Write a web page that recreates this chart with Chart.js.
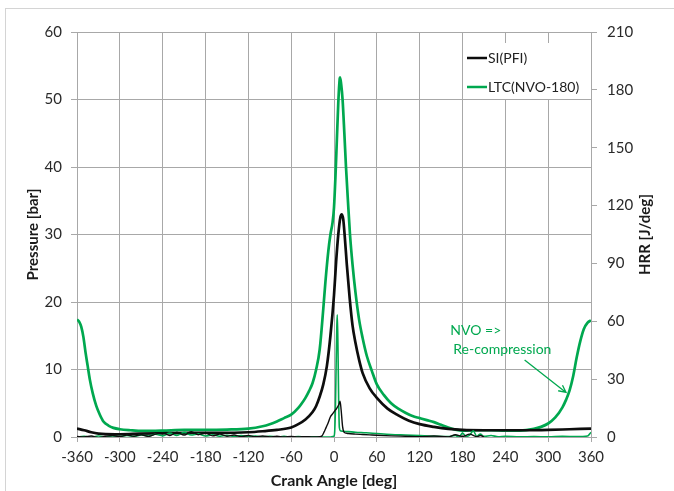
<!DOCTYPE html>
<html>
<head>
<meta charset="utf-8">
<title>Pressure and HRR vs crank angle</title>
<script src="https://cdn.jsdelivr.net/npm/chart.js@4"></script>
<style>
  html, body { margin: 0; padding: 0; background: #fff; }
  #wrap { position: relative; width: 674px; height: 491px; overflow: hidden; }
  #frame { position: absolute; left: 5px; top: 8px; width: 720px; height: 520px; border: 1px solid #d4d4d4; }
  #chart { position: absolute; left: 0; top: 0; }
</style>
</head>
<body>
<div id="wrap">
  <div id="frame"></div>
  <canvas id="chart" width="674" height="491"></canvas>
</div>
<script>
// cylinder pressure, SI (PFI) case [bar]
const siAngle = [-360, -350, -340, -330, -320, -300, -270, -240, -200, -160, -120, -100, -80, -60, -50, -40, -30, -25, -20, -15,
  -10, -5, 0, 3, 6, 9, 11, 13, 15, 18, 22, 26, 30, 35, 40, 50, 60, 75, 90, 105,
  120, 140, 160, 180, 210, 240, 270, 300, 330, 360];
const siPressure = [1.25, 1.0, 0.7, 0.5, 0.42, 0.4, 0.5, 0.55, 0.6, 0.6, 0.7, 0.85, 1.05, 1.4, 1.9, 2.6, 3.7, 4.6, 6.0, 7.8,
  10.5, 15, 21, 26, 30, 32.6, 33, 32.2, 29.8, 25.5, 20.5, 16.5, 14, 11.5, 9.5, 7.2, 5.8, 4.2, 3.2, 2.4,
  1.9, 1.5, 1.2, 1.05, 1.0, 1.0, 1.0, 1.05, 1.15, 1.25];

// cylinder pressure, LTC with NVO-180 [bar]
const ltcAngle = [-360, -357, -354, -351, -348, -345, -342, -338, -333, -328, -323, -316, -309, -300, -285, -268, -240, -210, -180, -150,
  -120, -100, -90, -80, -70, -60, -50, -45, -40, -35, -30, -25, -20, -15, -12, -8, -5, -2, 0, 2,
  4, 6, 8, 8.5, 10, 12, 14.5, 16.8, 19.5, 22.4, 26, 30, 35, 40, 46, 53, 60, 70, 80, 90,
  100, 110, 120, 130, 140, 150, 160, 170, 180, 200, 220, 240, 260, 280, 290, 300, 310, 320, 325, 330,
  335, 340, 345, 350, 355, 360];
const ltcPressure = [17.4, 17.1, 16.3, 14.8, 12.5, 10.5, 8.5, 6.5, 4.6, 3.3, 2.3, 1.7, 1.35, 1.15, 1.0, 0.9, 0.95, 1.05, 1.05, 1.1,
  1.25, 1.6, 1.9, 2.3, 2.8, 3.3, 4.3, 5.0, 5.8, 6.8, 8.0, 10, 13, 19, 23, 27.5, 30, 31.8, 34, 38.5,
  44, 49.5, 53.1, 53.3, 52.3, 50, 45, 40, 35, 30, 25.5, 21.5, 17.5, 14.7, 12, 9.8, 7.8, 6.2, 5.0, 4.2,
  3.6, 3.1, 2.8, 2.5, 2.2, 1.8, 1.4, 1.1, 0.95, 1.0, 1.0, 0.95, 0.95, 1.2, 1.5, 2.0, 2.9, 4.4, 5.5, 6.9,
  9.0, 11.8, 14.2, 16.0, 16.9, 17.3];

// heat release rate, SI (PFI) [J/deg]
const siHrrAngle = [-360, -350, -340, -330, -320, -310, -300, -290, -280, -270, -260, -250, -240, -230, -220, -210, -200, -190, -180, -170,
  -160, -150, -140, -130, -120, -110, -100, -90, -80, -70, -60, -50, -40, -30, -20, -17, -14, -11, -8, -5,
  -2, 1, 4, 7, 8.5, 10, 12, 14, 17, 20, 30, 40, 50, 60, 80, 100, 120, 140, 160, 170,
  180, 190, 200, 205, 210];
const siHrr = [0.3, 0, 0.5, -0.3, 0.4, 0.8, 0.2, 1.0, 0.4, 1.2, 0.3, 1.5, 2.2, 0.8, 2.5, 1.0, 2.8, 1.2, 2.0, 0.6,
  1.5, 0.4, 1.0, 0.2, 0.8, 0.1, 0.5, 0, 0.4, 0, 0.3, 0, 0.2, 0, 0.1, 0.5, 2.5, 5, 7.5, 10.5,
  12, 13.5, 15, 17, 18.5, 14, 5.5, 2.5, 2.0, 1.8, 1.5, 1.3, 1.1, 0.9, 0.6, 0.4, 0.2, 0.5, 0, 1.2,
  0.3, 1.5, 0.2, 0.8, 0];

// heat release rate, LTC with NVO-180 [J/deg]
const ltcHrrAngle = [-360, -350, -340, -330, -320, -310, -300, -290, -280, -270, -260, -250, -240, -230, -220, -210, -200, -190, -180, -170,
  -160, -150, -140, -130, -120, -110, -100, -90, -80, -70, -60, -50, -40, -30, -20, -10, -5, -2, 0, 1,
  2, 3, 4, 4.6, 5.5, 6.5, 7.5, 9, 12, 20, 30, 45, 60, 80, 100, 120, 140, 160, 170, 175,
  180, 185, 190, 195, 200, 205, 210, 220, 230, 240, 260, 280, 300, 320, 340, 355, 360];
const ltcHrr = [0, 0.4, -0.2, 0.5, 0.1, 0.6, 0.2, 0.8, 0.3, 1.0, 0.5, 1.4, 0.6, 2.0, 0.8, 2.4, 1.0, 1.6, 0.5, 1.2,
  0.4, 0.9, 0.3, 0.7, 0.2, 0.5, 0.1, 0.4, 0, 0.3, 0, 0.2, 0, 0.1, 0, 0, 0, 0.2, 0.5, 3,
  15, 38, 58, 63.4, 48, 20, 5, 3.2, 3.0, 2.8, 2.5, 2.2, 1.8, 1.3, 1.0, 0.7, 0.4, 0.2, 0.8, 0,
  2.0, 0.3, 1.0, 3.2, 0.4, 1.5, 0.3, 0.8, 0.1, 0.3, 0.1, 0.2, 0.1, 0.3, 0.2, 0.5, 2.5];

const xTicks = [-360, -300, -240, -180, -120, -60, 0, 60, 120, 180, 240, 300, 360];
const seriesNames = ['SI(PFI)', 'LTC(NVO-180)'];

const BLACK = '#0d0d0d';
const GREEN = '#00a84f';
const GRID = '#a8a8a8';
const FONT = 'Lato, "Open Sans", sans-serif';

function pts(xs, ys) {
  return xs.map((x, i) => ({ x: x, y: ys[i] }));
}

// legend box in the upper right of the plot, over the grid
const legendBox = {
  id: 'legendBox',
  afterDatasetsDraw(chart) {
    const ctx = chart.ctx;
    ctx.save();
    ctx.fillStyle = '#fff';
    ctx.fillRect(463, 43, 126, 56);
    const rows = [[seriesNames[0], BLACK, 58], [seriesNames[1], GREEN, 87]];
    ctx.font = '14px ' + FONT;
    ctx.textBaseline = 'middle';
    rows.forEach(([label, color, y]) => {
      ctx.strokeStyle = color;
      ctx.lineWidth = 2.5;
      ctx.beginPath();
      ctx.moveTo(467, y);
      ctx.lineTo(487, y);
      ctx.stroke();
      ctx.fillStyle = '#222';
      ctx.fillText(label, 488, y);
    });
    ctx.restore();
  }
};

// right axis title (reads bottom to top), NVO note and arrow
const extras = {
  id: 'extras',
  afterDraw(chart) {
    const ctx = chart.ctx;
    const x = chart.scales.x, y = chart.scales.y;
    const area = chart.chartArea;
    ctx.save();
    ctx.fillStyle = '#1a1a1a';
    ctx.font = 'bold 15px ' + FONT;
    ctx.textAlign = 'center';
    ctx.textBaseline = 'middle';
    ctx.translate(645, (area.top + area.bottom) / 2);
    ctx.rotate(-Math.PI / 2);
    ctx.fillText('HRR [J/deg]', 0, 0);
    ctx.restore();

    ctx.save();
    ctx.fillStyle = GREEN;
    ctx.font = '14px ' + FONT;
    ctx.textAlign = 'left';
    ctx.textBaseline = 'middle';
    ctx.fillText('NVO =>', x.getPixelForValue(163), y.getPixelForValue(15.8));
    ctx.fillText('Re-compression', x.getPixelForValue(167), y.getPixelForValue(12.9));
    const x0 = x.getPixelForValue(267), y0 = y.getPixelForValue(11.4);
    const x1 = x.getPixelForValue(325), y1 = y.getPixelForValue(6.6);
    ctx.strokeStyle = GREEN;
    ctx.lineWidth = 1.3;
    ctx.beginPath();
    ctx.moveTo(x0, y0);
    ctx.lineTo(x1, y1);
    const a = Math.atan2(y1 - y0, x1 - x0);
    ctx.moveTo(x1 - 8 * Math.cos(a - 0.45), y1 - 8 * Math.sin(a - 0.45));
    ctx.lineTo(x1, y1);
    ctx.lineTo(x1 - 8 * Math.cos(a + 0.45), y1 - 8 * Math.sin(a + 0.45));
    ctx.stroke();
    ctx.restore();
  }
};

const lineBase = { pointRadius: 0, fill: false, cubicInterpolationMode: 'monotone' };

new Chart(document.getElementById('chart'), {
  type: 'line',
  data: {
    datasets: [
      Object.assign({ label: 'SI(PFI) HRR', data: pts(siHrrAngle, siHrr), yAxisID: 'y2',
        borderColor: BLACK, borderWidth: 1.4 }, lineBase),
      Object.assign({ label: 'LTC(NVO-180) HRR', data: pts(ltcHrrAngle, ltcHrr), yAxisID: 'y2',
        borderColor: GREEN, borderWidth: 1.6 }, lineBase),
      Object.assign({ label: seriesNames[0], data: pts(siAngle, siPressure), yAxisID: 'y',
        borderColor: BLACK, borderWidth: 2.7 }, lineBase),
      Object.assign({ label: seriesNames[1], data: pts(ltcAngle, ltcPressure), yAxisID: 'y',
        borderColor: GREEN, borderWidth: 2.7 }, lineBase)
    ]
  },
  options: {
    responsive: false,
    animation: false,
    devicePixelRatio: 1,
    layout: { padding: { top: 32, left: 0, right: 0, bottom: 0 } },
    plugins: { legend: { display: false }, tooltip: { enabled: false } },
    scales: {
      x: {
        type: 'linear', min: -360, max: 360,
        afterBuildTicks: (s) => { s.ticks = xTicks.map(v => ({ value: v })); },
        afterFit: (s) => { s.height = 54; },
        ticks: { color: '#2a2a2a', font: { family: FONT, size: 15 }, padding: 6, maxRotation: 0 },
        grid: { color: GRID, tickLength: 5 },
        border: { color: GRID },
        title: { display: true, text: 'Crank Angle [deg]', color: '#1a1a1a',
          font: { family: FONT, size: 16, weight: 'bold' }, padding: { top: 0, bottom: 1 } }
      },
      y: {
        position: 'left', min: 0, max: 60,
        afterFit: (s) => { s.width = 77; },
        ticks: { stepSize: 10, color: '#2a2a2a', font: { family: FONT, size: 15 }, padding: 9 },
        grid: { color: GRID, tickLength: 6 },
        border: { color: GRID },
        title: { display: true, text: 'Pressure [bar]', color: '#1a1a1a',
          font: { family: FONT, size: 15, weight: 'bold' }, padding: { top: 24, bottom: 0 } }
      },
      y2: {
        position: 'right', min: 0, max: 210,
        afterFit: (s) => { s.width = 83; },
        ticks: { stepSize: 30, color: '#2a2a2a', font: { family: FONT, size: 15 }, padding: 10 },
        grid: { drawOnChartArea: false, color: GRID, tickLength: 6 },
        border: { color: GRID }
      }
    }
  },
  plugins: [legendBox, extras]
});
</script>
</body>
</html>
